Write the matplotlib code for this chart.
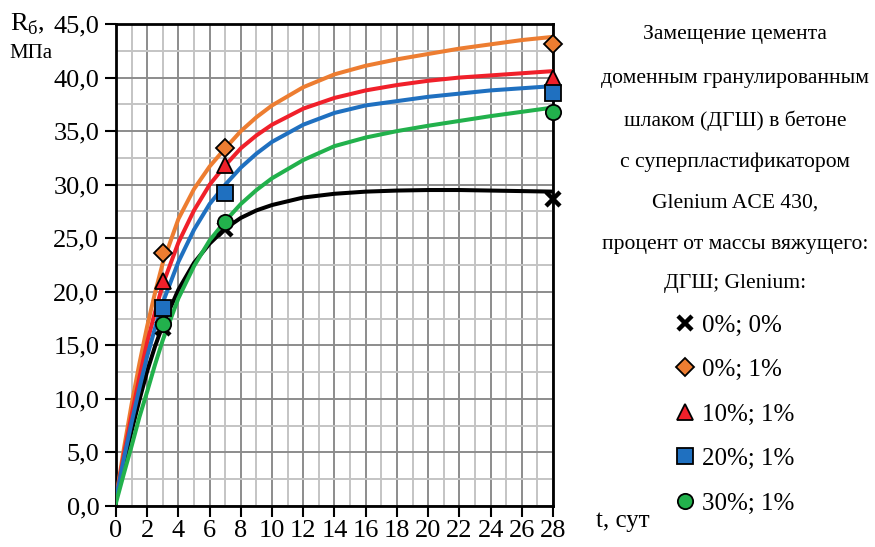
import numpy as np
import matplotlib.pyplot as plt
from matplotlib.ticker import MultipleLocator, FuncFormatter

plt.rcParams['font.family'] = ['Liberation Serif', 'DejaVu Serif']

# curve readings (trend lines) at these days
t_curve = [0, 0.5, 1, 1.5, 2, 2.5, 3, 4, 5, 6, 7, 8, 9, 10, 12, 14, 16, 18, 20, 22, 24, 26, 28]
c_black = [0.7, 4.0, 7.0, 9.9, 12.6, 14.9, 16.9, 20.2, 22.7, 24.5, 25.9, 26.9, 27.6, 28.1, 28.8, 29.15,
           29.35, 29.45, 29.5, 29.5, 29.45, 29.4, 29.35]
c_orange = [0.7, 5.3, 9.5, 13.3, 16.8, 19.9, 22.7, 26.8, 29.6, 31.7, 33.4, 35.0, 36.3, 37.4, 39.1, 40.3,
            41.1, 41.7, 42.2, 42.7, 43.1, 43.5, 43.8]
c_red = [0.7, 4.8, 8.5, 12.0, 15.3, 18.1, 20.7, 24.6, 27.6, 30.0, 31.8, 33.4, 34.6, 35.6, 37.1, 38.1,
         38.8, 39.3, 39.7, 40.0, 40.2, 40.4, 40.6]
c_blue = [0.7, 4.4, 7.8, 11.0, 14.0, 16.6, 19.0, 22.8, 25.8, 28.2, 30.0, 31.6, 32.9, 34.0, 35.6, 36.7,
          37.4, 37.8, 38.2, 38.5, 38.8, 39.0, 39.2]
c_green = [0.3, 3.0, 5.6, 8.3, 10.7, 13.2, 15.5, 19.4, 22.4, 24.8, 26.6, 28.2, 29.5, 30.6, 32.3, 33.6,
           34.4, 35.0, 35.5, 35.95, 36.4, 36.8, 37.2]

# measured points
t_pts = [3, 7, 28]
p_black = [16.6, 25.9, 28.7]
p_orange = [23.6, 33.4, 43.1]
p_red = [21.0, 31.8, 40.0]
p_blue = [18.5, 29.2, 38.6]
p_green = [17.0, 26.5, 36.8]

labels = ["0%; 0%", "0%; 1%", "10%; 1%", "20%; 1%", "30%; 1%"]
title_lines = ["Замещение цемента", "доменным гранулированным", "шлаком (ДГШ) в бетоне",
               "с суперпластификатором", "Glenium ACE 430,", "процент от массы вяжущего:",
               "ДГШ; Glenium:"]

col_black = "#000000"
col_orange = "#ED7D31"
col_red = "#F0202A"
col_blue = "#1F70C0"
col_green = "#22B14C"

fig = plt.figure(figsize=(8.75, 5.47), dpi=100)
ax = fig.add_axes([116/875, 1-506/547, 437/875, 482/547])

lw = 2.9
ax.plot(t_curve, c_black, color=col_black, lw=lw, zorder=3)
ax.plot(t_curve, c_orange, color=col_orange, lw=lw, zorder=3)
ax.plot(t_curve, c_red, color=col_red, lw=lw, zorder=3)
ax.plot(t_curve, c_blue, color=col_blue, lw=lw, zorder=3)
ax.plot(t_curve, c_green, color=col_green, lw=lw, zorder=3)

h = []
h.append(ax.plot(t_pts, p_black, ls='none', marker='x', ms=10, mew=3.2, color='black', zorder=5,
                 clip_on=False)[0])
h.append(ax.plot(t_pts, p_orange, ls='none', marker='D', ms=9, mfc=col_orange, mec='black', mew=1.3,
                 zorder=5, clip_on=False)[0])
h.append(ax.plot(t_pts, p_red, ls='none', marker='^', ms=11, mfc=col_red, mec='black', mew=1.3,
                 zorder=5, clip_on=False)[0])
h.append(ax.plot(t_pts, p_blue, ls='none', marker='s', ms=11, mfc=col_blue, mec='black', mew=1.3,
                 zorder=5, clip_on=False)[0])
h.append(ax.plot(t_pts, p_green, ls='none', marker='o', ms=11, mfc=col_green, mec='black', mew=1.3,
                 zorder=5, clip_on=False)[0])

ax.set_xlim(0, 28)
ax.set_ylim(0, 45)
ax.xaxis.set_major_locator(MultipleLocator(2))
ax.xaxis.set_minor_locator(MultipleLocator(1))
ax.yaxis.set_major_locator(MultipleLocator(5))
ax.yaxis.set_minor_locator(MultipleLocator(2.5))
ax.yaxis.set_major_formatter(FuncFormatter(lambda v, p: f"{v:.1f}".replace('.', ',')))
ax.grid(which='major', color='#8c8c8c', lw=1.4, zorder=0)
ax.grid(which='minor', color='#c4c4c4', lw=1.4, zorder=0)
ax.set_axisbelow(True)
ax.tick_params(which='major', direction='out', length=8, width=1.5, labelsize=19, pad=4)
ax.tick_params(which='minor', length=0)
ax.tick_params(axis='x', pad=2)
for s in ax.spines.values():
    s.set_linewidth(2)

fig.text(10/875, 1-24/547, "R$_{\\mathregular{б}}$,", fontsize=19, va='center', ha='left')
fig.text(9/875, 1-53/547, "МПа", fontsize=15, va='center', ha='left')
fig.text(596/875, 1-521/547, "t, сут", fontsize=18, va='center', ha='left')

ys = [35, 79, 121, 162, 203, 244, 284]
for line, yy in zip(title_lines, ys):
    fig.text(735/875, 1-yy/547, line, fontsize=15.6, ha='center', va='center')

leg = fig.legend(h, labels, loc='upper left', bbox_to_anchor=(675/875, 1-314/547), frameon=False,
                 fontsize=18, handlelength=0.8, handletextpad=0.3, labelspacing=0.88,
                 borderaxespad=0, borderpad=0)

fig.savefig("out.png", dpi=100)
